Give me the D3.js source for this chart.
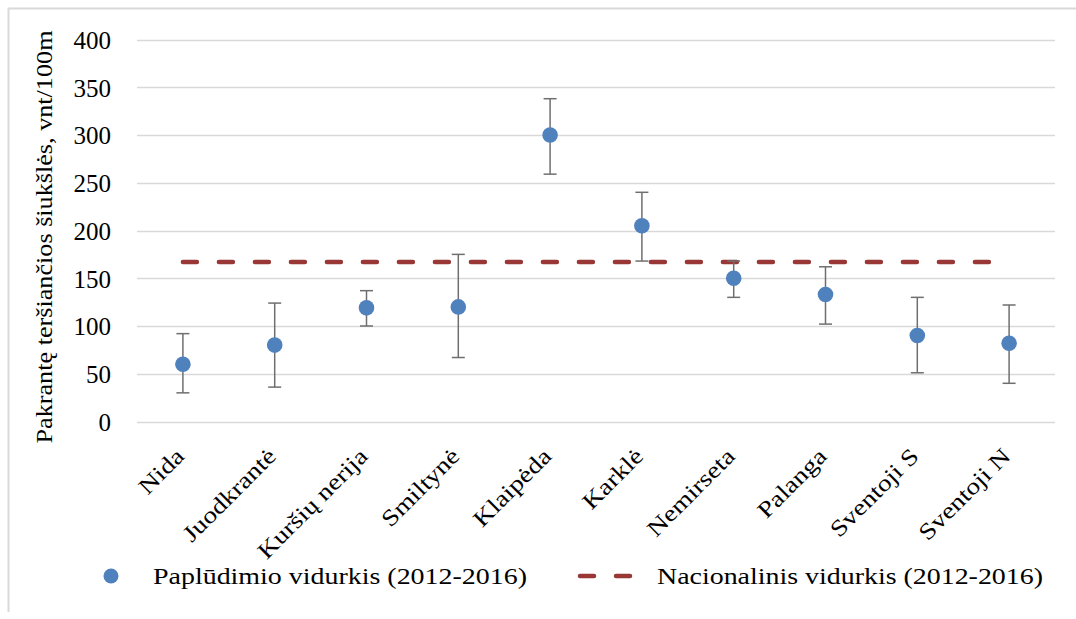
<!DOCTYPE html>
<html><head><meta charset="utf-8">
<script src="https://cdn.jsdelivr.net/npm/d3@7"></script>
<style>body{margin:0;background:#fff}svg{display:block}</style>
</head><body>
<script>
const categories = ["Nida","Juodkrantė","Kuršių nerija","Smiltynė","Klaipėda","Karklė","Nemirseta","Palanga","Sventoji S","Sventoji N"];
const means = [60, 80, 119, 120, 300, 205, 150, 133, 90, 82];
const errHigh = [92, 124, 137, 175, 338, 240, 168, 162, 130, 122];
const errLow = [30, 36, 100, 67, 259, 168, 130, 102, 51, 40];
const nationalAvg = 167;
const yTicks = [0, 50, 100, 150, 200, 250, 300, 350, 400];
const yTitle = "Pakrantę teršiančios šiukšlės, vnt/100m";
const legendLabels = ["Paplūdimio vidurkis (2012-2016)", "Nacionalinis vidurkis (2012-2016)"];

const W = 1076, H = 619;
const svg = d3.select("body").append("svg").attr("width", W).attr("height", H);
const font = "'Liberation Serif','Times New Roman',serif";
const stretch = 1.2;

// border
svg.append("line").attr("x1",8).attr("x2",W).attr("y1",8.5).attr("y2",8.5).attr("stroke","#d9d9d9").attr("stroke-width",2);
svg.append("line").attr("x1",8.5).attr("x2",8.5).attr("y1",8).attr("y2",612).attr("stroke","#d9d9d9").attr("stroke-width",2);

const x = d3.scaleBand().domain(categories).range([137, 1055]);
const y = d3.scaleLinear().domain([0, 400]).range([421.5, 39.5]);
const cx = d => x(d) + x.bandwidth()/2;

// gridlines
svg.append("g").selectAll("line").data(yTicks).join("line")
  .attr("x1", 137).attr("x2", 1055)
  .attr("y1", d => Math.round(y(d))+0.5).attr("y2", d => Math.round(y(d))+0.5)
  .attr("stroke", "#d9d9d9").attr("stroke-width", 1.5);

// y axis labels
const yAxis = d3.axisLeft(y).tickValues(yTicks).tickSize(0).tickPadding(0);
const gy = svg.append("g").attr("transform", "translate(111,0)").call(yAxis);
gy.select(".domain").remove();
gy.selectAll("text").attr("font-family", font).attr("font-size", 25).attr("fill", "#000")
  .attr("dy", "0.35em");

// y title
const yt = svg.append("text").attr("transform", "translate(52,237) rotate(-90)")
  .attr("text-anchor", "middle").attr("font-family", font).attr("font-size", 23)
  .attr("fill", "#000").text(yTitle);
yt.attr("textLength", 413).attr("lengthAdjust", "spacingAndGlyphs");

// x labels
const xAxis = d3.axisBottom(x).tickSize(0).tickPadding(0);
const gx = svg.append("g").call(xAxis);
gx.select(".domain").remove();
gx.selectAll(".tick").attr("transform", d => `translate(${cx(d)-3},452)`);
gx.selectAll("text").attr("font-family", font).attr("font-size", 23).attr("fill", "#000")
  .attr("text-anchor", "end").attr("dy", "0.35em").attr("y", 0).attr("transform", "rotate(-45)")
  .each(function(){ const L = this.getComputedTextLength(); d3.select(this).attr("textLength", L*stretch).attr("lengthAdjust","spacingAndGlyphs"); });

// national average line
svg.append("line")
  .attr("x1", cx(categories[0])).attr("x2", cx(categories[categories.length-1]))
  .attr("y1", y(nationalAvg)).attr("y2", y(nationalAvg))
  .attr("stroke", "#983735").attr("stroke-width", 4.5)
  .attr("stroke-dasharray", "14,22").attr("stroke-linecap", "round");

// error bars
const eg = svg.append("g").attr("stroke", "#6f6f6f").attr("stroke-width", 1.5);
categories.forEach((c, i) => {
  const xc = cx(c);
  eg.append("line").attr("x1", xc).attr("x2", xc).attr("y1", y(errHigh[i])).attr("y2", y(errLow[i]));
  eg.append("line").attr("x1", xc-6.5).attr("x2", xc+6.5).attr("y1", y(errHigh[i])).attr("y2", y(errHigh[i]));
  eg.append("line").attr("x1", xc-6.5).attr("x2", xc+6.5).attr("y1", y(errLow[i])).attr("y2", y(errLow[i]));
});

// points
svg.append("g").selectAll("circle").data(categories).join("circle")
  .attr("cx", d => cx(d)).attr("cy", (d, i) => y(means[i])).attr("r", 7.8)
  .attr("fill", "#4f81bd");

// legend
const lg = svg.append("g");
lg.append("circle").attr("cx", 111).attr("cy", 576).attr("r", 7.5).attr("fill", "#4f81bd");
lg.append("text").attr("x", 153).attr("y", 576).attr("dy","0.35em").attr("font-family", font)
  .attr("font-size", 24).attr("fill","#000").text(legendLabels[0])
  .attr("textLength", 374).attr("lengthAdjust","spacingAndGlyphs");
lg.append("line").attr("x1", 580).attr("x2", 632).attr("y1", 576).attr("y2", 576)
  .attr("stroke", "#983735").attr("stroke-width", 4.5).attr("stroke-dasharray", "14,22").attr("stroke-linecap","round");
lg.append("text").attr("x", 657).attr("y", 576).attr("dy","0.35em").attr("font-family", font)
  .attr("font-size", 24).attr("fill","#000").text(legendLabels[1])
  .attr("textLength", 386).attr("lengthAdjust","spacingAndGlyphs");
</script>
</body></html>
